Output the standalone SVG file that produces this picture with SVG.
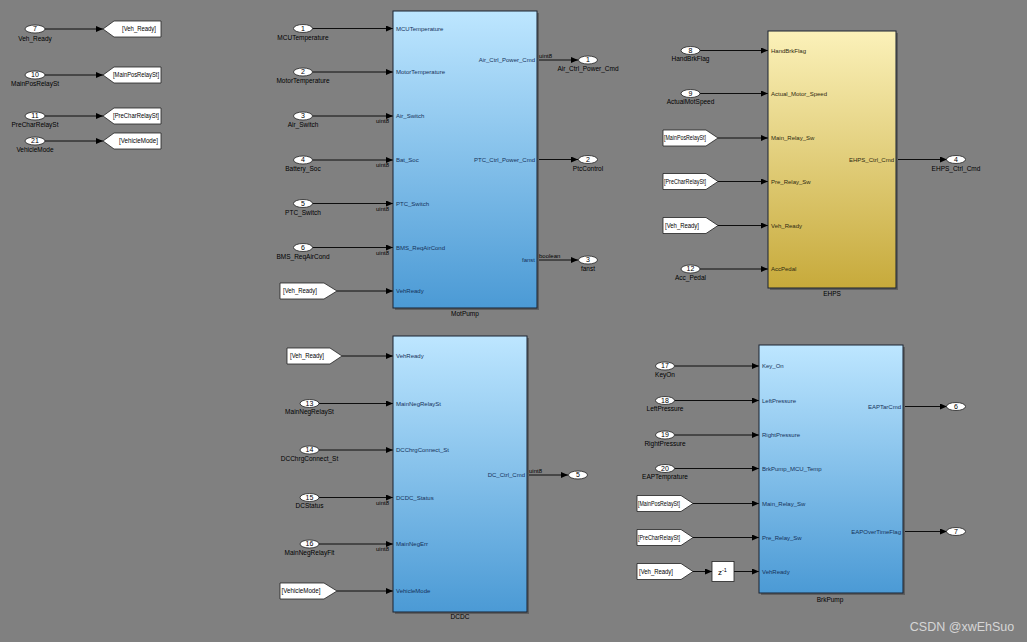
<svg xmlns="http://www.w3.org/2000/svg" width="1027" height="642" viewBox="0 0 1027 642">
<defs>
<linearGradient id="gBlue" x1="0" y1="0" x2="0" y2="1">
<stop offset="0" stop-color="#bde6ff"/>
<stop offset="1" stop-color="#4b9ad5"/>
</linearGradient>
<linearGradient id="gYel" x1="0" y1="0" x2="0" y2="1">
<stop offset="0" stop-color="#fbf1b9"/>
<stop offset="1" stop-color="#c7aa3b"/>
</linearGradient>
<marker id="arr" markerUnits="userSpaceOnUse" markerWidth="7" markerHeight="6" refX="7" refY="3" orient="auto">
<path d="M0,0 L7,3 L0,6 z" fill="#000"/>
</marker>
<style>
text{font-family:"Liberation Sans",Arial,sans-serif;}
.ov{fill:#fff;stroke:#222;stroke-width:0.8;}
.num{font-size:7px;text-anchor:middle;fill:#000;}
.lbl{font-size:6.5px;text-anchor:middle;fill:#000;}
.tag{fill:#fff;stroke:#222;stroke-width:0.8;}
.tagt{font-size:6.5px;fill:#000;}
.pin{font-size:6px;fill:#15325a;}
.pout{font-size:6px;fill:#15325a;text-anchor:end;}
.pinY{font-size:6px;fill:#2e2a10;}
.poutY{font-size:6px;fill:#2e2a10;text-anchor:end;}
.dt{font-size:6px;fill:#000;}
.dte{font-size:6px;fill:#000;text-anchor:end;}
.name{font-size:6.5px;text-anchor:middle;fill:#000;}
.sh{fill:#5e5e5e;}
.blk{stroke:#1b2330;stroke-width:1;}
.ln{stroke:#000;stroke-width:0.9;fill:none;marker-end:url(#arr);}
</style>
</defs>
<rect x="0" y="0" width="1027" height="642" fill="#808080"/>

<!-- connectors -->
<g id="connectors">
<path class="ln" d="M45,29 H103"/>
<path class="ln" d="M45,75 H103"/>
<path class="ln" d="M45,116 H103"/>
<path class="ln" d="M45,141 H103"/>

<path class="ln" d="M312.5,28.5 H393"/>
<path class="ln" d="M312.5,72 H393"/>
<path class="ln" d="M312.5,116 H393"/>
<path class="ln" d="M312.5,160 H393"/>
<path class="ln" d="M312.5,203.5 H393"/>
<path class="ln" d="M312.5,247.5 H393"/>
<path class="ln" d="M337,291 H393"/>
<path class="ln" d="M537,60 H578"/>
<path class="ln" d="M537,159.5 H578"/>
<path class="ln" d="M537,260 H578"/>

<path class="ln" d="M700,50.5 H768"/>
<path class="ln" d="M700,93.5 H768"/>
<path class="ln" d="M718,138 H768"/>
<path class="ln" d="M718,181.5 H768"/>
<path class="ln" d="M718,225.5 H768"/>
<path class="ln" d="M700,269 H768"/>
<path class="ln" d="M896,159.5 H947"/>

<path class="ln" d="M342,356 H393"/>
<path class="ln" d="M319,403.5 H393"/>
<path class="ln" d="M319,450 H393"/>
<path class="ln" d="M319,497.5 H393"/>
<path class="ln" d="M319,544 H393"/>
<path class="ln" d="M337,591 H393"/>
<path class="ln" d="M527,475 H568"/>

<path class="ln" d="M674.5,366 H759"/>
<path class="ln" d="M674.5,400.5 H759"/>
<path class="ln" d="M674.5,435 H759"/>
<path class="ln" d="M674.5,468.5 H759"/>
<path class="ln" d="M693,503.5 H759"/>
<path class="ln" d="M693,537.5 H759"/>
<path class="ln" d="M693,571.5 H712"/>
<path class="ln" d="M734,571.5 H759"/>
<path class="ln" d="M903,406.5 H947"/>
<path class="ln" d="M903,531.5 H947"/>
</g>

<!-- top-left inports and gotos -->
<g id="in7"><ellipse class="ov" cx="35" cy="29" rx="10" ry="4"/><text class="num" x="35" y="31.4">7</text><text class="lbl" x="35" y="40.5">Veh_Ready</text></g>
<g id="goto_veh"><path class="tag" d="M103,29 L114,21 H161 V37 H114 Z"/><text class="tagt" x="122" y="31.3" textLength="34" lengthAdjust="spacingAndGlyphs">[Veh_Ready]</text></g>
<g id="in10"><ellipse class="ov" cx="35" cy="75" rx="10" ry="4"/><text class="num" x="35" y="77.4">10</text><text class="lbl" x="35" y="86">MainPosRelaySt</text></g>
<g id="goto_mainpos"><path class="tag" d="M103,75 L114,67 H161 V83 H114 Z"/><text class="tagt" x="113" y="77.3" textLength="46" lengthAdjust="spacingAndGlyphs">[MainPosRelaySt]</text></g>
<g id="in11"><ellipse class="ov" cx="35" cy="116" rx="10" ry="4"/><text class="num" x="35" y="118.4">11</text><text class="lbl" x="35" y="127">PreCharRelaySt</text></g>
<g id="goto_prechar"><path class="tag" d="M103,116 L114,108 H161 V124 H114 Z"/><text class="tagt" x="113" y="118.3" textLength="46" lengthAdjust="spacingAndGlyphs">[PreCharRelaySt]</text></g>
<g id="in21"><ellipse class="ov" cx="35" cy="141" rx="10" ry="4"/><text class="num" x="35" y="143.4">21</text><text class="lbl" x="35" y="151.5">VehicleMode</text></g>
<g id="goto_vehmode"><path class="tag" d="M103,141 L114,133 H161 V149 H114 Z"/><text class="tagt" x="119" y="143.3" textLength="39" lengthAdjust="spacingAndGlyphs">[VehicleMode]</text></g>

<!-- MotPump -->
<g id="motpump_inputs">
<ellipse class="ov" cx="303" cy="28.5" rx="9.5" ry="4"/><text class="num" x="303" y="30.9">1</text><text class="lbl" x="303" y="39.5">MCUTemperature</text>
<ellipse class="ov" cx="303" cy="72" rx="9.5" ry="4"/><text class="num" x="303" y="74.4">2</text><text class="lbl" x="303" y="83">MotorTemperature</text>
<ellipse class="ov" cx="303" cy="116" rx="9.5" ry="4"/><text class="num" x="303" y="118.4">3</text><text class="lbl" x="303" y="127">Air_Switch</text>
<ellipse class="ov" cx="303" cy="160" rx="9.5" ry="4"/><text class="num" x="303" y="162.4">4</text><text class="lbl" x="303" y="171">Battery_Soc</text>
<ellipse class="ov" cx="303" cy="203.5" rx="9.5" ry="4"/><text class="num" x="303" y="205.9">5</text><text class="lbl" x="303" y="214.5">PTC_Switch</text>
<ellipse class="ov" cx="303" cy="247.5" rx="9.5" ry="4"/><text class="num" x="303" y="249.9">6</text><text class="lbl" x="303" y="258.5">BMS_ReqAirCond</text>
<text class="dte" x="389" y="123">uint8</text>
<text class="dte" x="389" y="167">uint8</text>
<text class="dte" x="389" y="210.5">uint8</text>
<text class="dte" x="389" y="254.5">uint8</text>
<path class="tag" d="M280,283 H324 L337,291 L324,299 H280 Z"/><text class="tagt" x="283" y="293.3" textLength="34" lengthAdjust="spacingAndGlyphs">[Veh_Ready]</text>
</g>
<g id="motpump">
<rect class="sh" x="395" y="13" width="144" height="297"/>
<rect class="blk" x="393" y="11" width="144" height="297" fill="url(#gBlue)"/>
<text class="pin" x="396" y="30.5">MCUTemperature</text>
<text class="pin" x="396" y="74">MotorTemperature</text>
<text class="pin" x="396" y="118">Air_Switch</text>
<text class="pin" x="396" y="162">Bat_Soc</text>
<text class="pin" x="396" y="205.5">PTC_Switch</text>
<text class="pin" x="396" y="249.5">BMS_ReqAirCond</text>
<text class="pin" x="396" y="293">VehReady</text>
<text class="pout" x="535" y="62">Air_Ctrl_Power_Cmd</text>
<text class="pout" x="535" y="161.5">PTC_Ctrl_Power_Cmd</text>
<text class="pout" x="535" y="262">fanst</text>
<text class="name" x="465" y="316">MotPump</text>
</g>
<g id="motpump_outputs">
<text class="dt" x="539" y="57.5">uint8</text>
<text class="dt" x="539" y="257.5">boolean</text>
<ellipse class="ov" cx="588" cy="60" rx="9.5" ry="4"/><text class="num" x="588" y="62.4">1</text><text class="lbl" x="588" y="71">Air_Ctrl_Power_Cmd</text>
<ellipse class="ov" cx="588" cy="159.5" rx="9.5" ry="4"/><text class="num" x="588" y="161.9">2</text><text class="lbl" x="588" y="170.5">PtcControl</text>
<ellipse class="ov" cx="588" cy="260" rx="9.5" ry="4"/><text class="num" x="588" y="262.4">3</text><text class="lbl" x="588" y="271">fanst</text>
</g>

<!-- EHPS -->
<g id="ehps_inputs">
<ellipse class="ov" cx="690.5" cy="50.5" rx="9.5" ry="4"/><text class="num" x="690.5" y="52.9">8</text><text class="lbl" x="690.5" y="61">HandBrkFlag</text>
<ellipse class="ov" cx="690.5" cy="93.5" rx="9.5" ry="4"/><text class="num" x="690.5" y="95.9">9</text><text class="lbl" x="690.5" y="104">ActualMotSpeed</text>
<path class="tag" d="M663,130 H706 L718,138 L706,146 H663 Z"/><text class="tagt" x="664" y="140.3" textLength="42" lengthAdjust="spacingAndGlyphs">[MainPosRelaySt]</text>
<path class="tag" d="M663,173.5 H706 L718,181.5 L706,189.5 H663 Z"/><text class="tagt" x="664" y="183.8" textLength="42" lengthAdjust="spacingAndGlyphs">[PreCharRelaySt]</text>
<path class="tag" d="M663,217.5 H706 L718,225.5 L706,233.5 H663 Z"/><text class="tagt" x="665" y="227.8" textLength="34" lengthAdjust="spacingAndGlyphs">[Veh_Ready]</text>
<ellipse class="ov" cx="690.5" cy="269" rx="9.5" ry="4"/><text class="num" x="690.5" y="271.4">12</text><text class="lbl" x="690.5" y="279.5">Acc_Pedal</text>
</g>
<g id="ehps">
<rect class="sh" x="770" y="33" width="128" height="257"/>
<rect class="blk" x="768" y="31" width="128" height="257" fill="url(#gYel)" stroke="#2b2814"/>
<text class="pinY" x="771" y="52.5">HandBrkFlag</text>
<text class="pinY" x="771" y="95.5">Actual_Motor_Speed</text>
<text class="pinY" x="771" y="140">Main_Relay_Sw</text>
<text class="pinY" x="771" y="183.5">Pre_Relay_Sw</text>
<text class="pinY" x="771" y="227.5">Veh_Ready</text>
<text class="pinY" x="771" y="271">AccPedal</text>
<text class="poutY" x="894" y="161.5">EHPS_Ctrl_Cmd</text>
<text class="name" x="832" y="296">EHPS</text>
</g>
<g id="ehps_output">
<ellipse class="ov" cx="956" cy="159.5" rx="9.5" ry="4"/><text class="num" x="956" y="161.9">4</text><text class="lbl" x="956" y="170.5">EHPS_Ctrl_Cmd</text>
</g>

<!-- DCDC -->
<g id="dcdc_inputs">
<path class="tag" d="M287,348 H330 L342,356 L330,364 H287 Z"/><text class="tagt" x="290" y="358.3" textLength="34" lengthAdjust="spacingAndGlyphs">[Veh_Ready]</text>
<ellipse class="ov" cx="309.5" cy="403.5" rx="9.5" ry="4"/><text class="num" x="309.5" y="405.9">13</text><text class="lbl" x="309.5" y="414">MainNegRelaySt</text>
<ellipse class="ov" cx="309.5" cy="450" rx="9.5" ry="4"/><text class="num" x="309.5" y="452.4">14</text><text class="lbl" x="309.5" y="460.5">DCChrgConnect_St</text>
<ellipse class="ov" cx="309.5" cy="497.5" rx="9.5" ry="4"/><text class="num" x="309.5" y="499.9">15</text><text class="lbl" x="309.5" y="508">DCStatus</text>
<ellipse class="ov" cx="309.5" cy="544" rx="9.5" ry="4"/><text class="num" x="309.5" y="546.4">16</text><text class="lbl" x="309.5" y="554.5">MainNegRelayFlt</text>
<text class="dte" x="389" y="504.5">uint8</text>
<text class="dte" x="389" y="551">uint8</text>
<path class="tag" d="M280,583 H324 L337,591 L324,599 H280 Z"/><text class="tagt" x="281.5" y="593.3" textLength="39" lengthAdjust="spacingAndGlyphs">[VehicleMode]</text>
</g>
<g id="dcdc">
<rect class="sh" x="395" y="338" width="134" height="276"/>
<rect class="blk" x="393" y="336" width="134" height="276" fill="url(#gBlue)"/>
<text class="pin" x="396" y="358">VehReady</text>
<text class="pin" x="396" y="405.5">MainNegRelaySt</text>
<text class="pin" x="396" y="452">DCChrgConnect_St</text>
<text class="pin" x="396" y="499.5">DCDC_Status</text>
<text class="pin" x="396" y="546">MainNegErr</text>
<text class="pin" x="396" y="593">VehicleMode</text>
<text class="pout" x="525" y="477">DC_Ctrl_Cmd</text>
<text class="name" x="460" y="618.5">DCDC</text>
</g>
<g id="dcdc_output">
<text class="dt" x="529" y="472.5">uint8</text>
<ellipse class="ov" cx="578" cy="475" rx="9.5" ry="4"/><text class="num" x="578" y="477.4">5</text>
</g>

<!-- BrkPump -->
<g id="brkpump_inputs">
<ellipse class="ov" cx="665" cy="366" rx="9.5" ry="4"/><text class="num" x="665" y="368.4">17</text><text class="lbl" x="665" y="376.5">KeyOn</text>
<ellipse class="ov" cx="665" cy="400.5" rx="9.5" ry="4"/><text class="num" x="665" y="402.9">18</text><text class="lbl" x="665" y="411">LeftPressure</text>
<ellipse class="ov" cx="665" cy="435" rx="9.5" ry="4"/><text class="num" x="665" y="437.4">19</text><text class="lbl" x="665" y="445.5">RightPressure</text>
<ellipse class="ov" cx="665" cy="468.5" rx="9.5" ry="4"/><text class="num" x="665" y="470.9">20</text><text class="lbl" x="665" y="479">EAPTemprature</text>
<path class="tag" d="M637,495.5 H681 L693,503.5 L681,511.5 H637 Z"/><text class="tagt" x="638" y="505.8" textLength="42" lengthAdjust="spacingAndGlyphs">[MainPosRelaySt]</text>
<path class="tag" d="M637,529.5 H681 L693,537.5 L681,545.5 H637 Z"/><text class="tagt" x="638" y="539.8" textLength="42" lengthAdjust="spacingAndGlyphs">[PreCharRelaySt]</text>
<path class="tag" d="M637,563.5 H681 L693,571.5 L681,579.5 H637 Z"/><text class="tagt" x="639" y="573.8" textLength="34" lengthAdjust="spacingAndGlyphs">[Veh_Ready]</text>
</g>
<g id="delay">
<rect x="712" y="561.5" width="22" height="20" fill="#fff" stroke="#222" stroke-width="0.8"/>
<text x="718" y="575" font-size="8" fill="#000">z<tspan dy="-3.5" font-size="5.5">-1</tspan></text>
</g>
<g id="brkpump">
<rect class="sh" x="761" y="347" width="144" height="248"/>
<rect class="blk" x="759" y="345" width="144" height="248" fill="url(#gBlue)"/>
<text class="pin" x="762" y="368">Key_On</text>
<text class="pin" x="762" y="402.5">LeftPressure</text>
<text class="pin" x="762" y="437">RightPressure</text>
<text class="pin" x="762" y="470.5">BrkPump_MCU_Temp</text>
<text class="pin" x="762" y="505.5">Main_Relay_Sw</text>
<text class="pin" x="762" y="539.5">Pre_Relay_Sw</text>
<text class="pin" x="762" y="573.5">VehReady</text>
<text class="pout" x="901" y="408.5">EAPTarCmd</text>
<text class="pout" x="901" y="533.5">EAPOverTimeFlag</text>
<text class="name" x="830" y="601.5">BrkPump</text>
</g>
<g id="brkpump_outputs">
<ellipse class="ov" cx="956" cy="406.5" rx="9.5" ry="4"/><text class="num" x="956" y="408.9">6</text>
<ellipse class="ov" cx="956" cy="531.5" rx="9.5" ry="4"/><text class="num" x="956" y="533.9">7</text>
</g>

<text x="962" y="631" font-size="12.5" text-anchor="middle" fill="#e6e6e6" fill-opacity="0.85">CSDN @xwEhSuo</text>
</svg>
